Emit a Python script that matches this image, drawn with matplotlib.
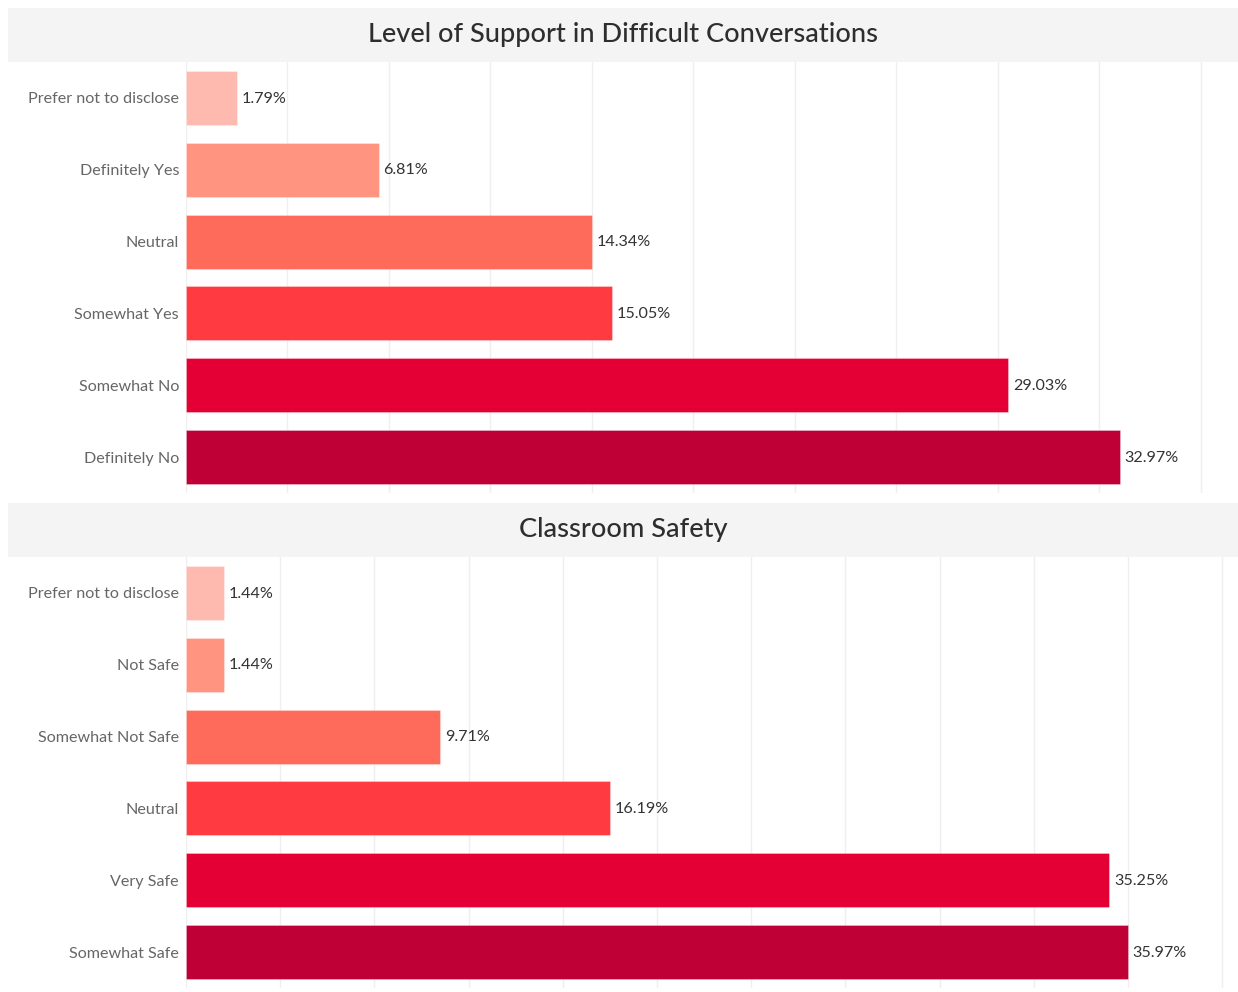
import matplotlib
matplotlib.use("Agg")
import matplotlib.pyplot as plt
from matplotlib.patches import Rectangle

plt.rcParams['font.family'] = ['Lato', 'DejaVu Sans']

# ---- data ----
support_title = "Level of Support in Difficult Conversations"
support_cats = ["Prefer not to disclose", "Definitely Yes", "Neutral",
                "Somewhat Yes", "Somewhat No", "Definitely No"]
support_pct = [1.79, 6.81, 14.34, 15.05, 29.03, 32.97]
support_total = 279  # respondents; axis gridlines every 10 responses

safety_title = "Classroom Safety"
safety_cats = ["Prefer not to disclose", "Not Safe", "Somewhat Not Safe",
               "Neutral", "Very Safe", "Somewhat Safe"]
safety_pct = [1.44, 1.44, 9.71, 16.19, 35.25, 35.97]
safety_total = 278

colors = ["#FFBAB0", "#FF9580", "#FF6B5A", "#FF3A41", "#E40035", "#BE0036"]

W, H = 1238, 992
fig = plt.figure(figsize=(W / 100, H / 100), dpi=100)
fig.patch.set_facecolor("white")


def px_axes(x0, y0, x1, y1):
    return fig.add_axes([x0 / W, 1 - y1 / H, (x1 - x0) / W, (y1 - y0) / H])


def panel(title, cats, vals, total, band_y0, band_y1, plot_y1, xmax):
    # title band
    fig.patches.append(Rectangle((8 / W, 1 - band_y1 / H), (W - 8) / W,
                                 (band_y1 - band_y0) / H,
                                 transform=fig.transFigure,
                                 facecolor="#F4F4F4", edgecolor="none", zorder=0))
    fig.text((8 + W) / 2 / W, 1 - (band_y0 + band_y1) / 2 / H + 0.001, title,
             ha="center", va="center", fontsize=19.5, color="#2E2E2E",
             fontweight="medium")

    ax = px_axes(186, band_y1, W, plot_y1)
    n = len(cats)
    ys = list(range(n))
    ax.barh(ys, vals, height=0.75, color=colors[:n], zorder=3,
            edgecolor=(1, 1, 1, 0.35), linewidth=0.6)
    ax.set_ylim(n - 0.5, -0.5)
    ax.set_xlim(0, xmax)
    step = 1000.0 / total
    grid = [k * step for k in range(0, int(xmax / step) + 1)]
    for g in grid:
        ax.axvline(g, color="#EFEFEF", lw=1.0, zorder=1)
    ax.set_yticks(ys)
    ax.set_yticklabels(cats, fontsize=11.6, color="#666666")
    ax.tick_params(axis="y", length=0, pad=5)
    ax.set_xticks([])
    for s in ax.spines.values():
        s.set_visible(False)
    for y, v in zip(ys, vals):
        ax.annotate(f"{v:.2f}%", (v, y), xytext=(3.4, -0.5),
                    textcoords="offset points", ha="left", va="center",
                    fontsize=11.6, color="#333333", zorder=4)
    return ax


panel(support_title, support_cats, support_pct, support_total, 8, 62, 493, 37.15)
panel(safety_title, safety_cats, safety_pct, safety_total, 503, 557, 988, 40.17)

fig.savefig("out.png", dpi=100, facecolor="white")
